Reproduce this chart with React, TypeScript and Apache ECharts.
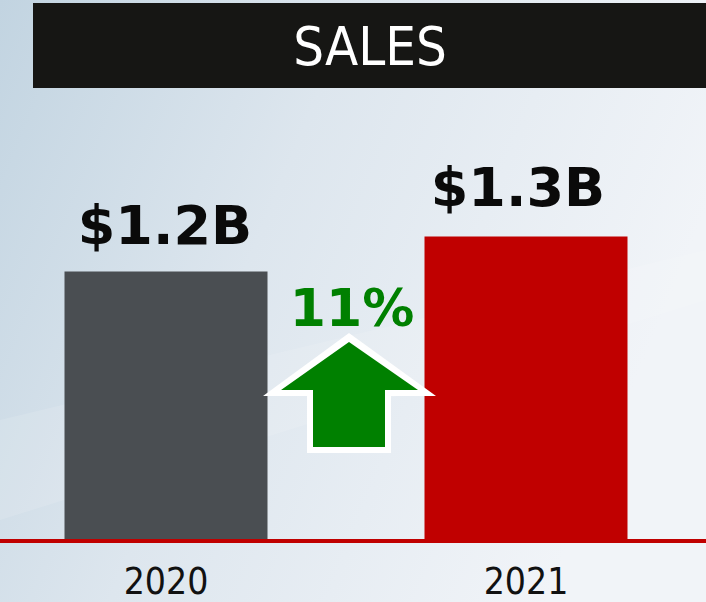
import React, { useEffect, useRef } from "react";
import * as echarts from "echarts";

const years = ["2020", "2021"];
const salesBillions = [1.2, 1.3];
const salesLabels = ["$1.2B", "$1.3B"];
const barColors = ["#4a4e52", "#c00000"];
const growthLabel = "11%";
const chartTitle = "SALES";

export default function App() {
  const ref = useRef<HTMLDivElement>(null);

  useEffect(() => {
    if (!ref.current) return;
    const chart = echarts.init(ref.current, null, { renderer: "svg" });
    const labelOffsets = [[-1, -1], [-8, -4]];
    const option: any = {
      animation: false,
      backgroundColor: {
        type: "linear",
        x: 0,
        y: 0,
        x2: 1,
        y2: 0.35,
        colorStops: [
          { offset: 0, color: "#c2d4e1" },
          { offset: 0.45, color: "#dde6ee" },
          { offset: 1, color: "#f1f4f8" },
        ],
      },
      title: {
        text: chartTitle,
        left: 370,
        top: 46,
        padding: 0,
        textAlign: "center",
        textVerticalAlign: "middle",
        textStyle: {
          color: "#ffffff",
          fontFamily: "DejaVu Sans Condensed",
          fontWeight: "normal",
          fontSize: 54,
        },
        z: 20,
      },
      grid: {
        left: -14,
        right: 0,
        top: 100,
        bottom: 61,
        containLabel: false,
        outerBoundsMode: "none",
      },
      xAxis: {
        type: "category",
        data: years,
        axisLine: { show: true, lineStyle: { color: "#c00000", width: 4 } },
        axisTick: { show: false },
        axisLabel: {
          color: "#111111",
          fontFamily: "DejaVu Sans Condensed",
          fontSize: 37,
          margin: 22,
        },
        z: 5,
      },
      yAxis: {
        type: "value",
        min: 0.43,
        max: 1.69,
        show: false,
        splitLine: { show: false },
      },
      series: [
        {
          type: "bar",
          barWidth: 203,
          data: salesBillions.map((v, i) => ({
            value: v,
            itemStyle: { color: barColors[i] },
            label: { offset: labelOffsets[i] },
          })),
          label: {
            show: true,
            position: "top",
            distance: 18,
            formatter: (p: any) => salesLabels[p.dataIndex],
            color: "#0a0a0a",
            fontFamily: "DejaVu Sans",
            fontWeight: "bold",
            fontSize: 54,
          },
          z: 2,
        },
      ],
      graphic: [
        {
          type: "polygon",
          z: 0,
          silent: true,
          shape: { points: [[0, 420], [706, 250], [706, 300], [0, 520]] },
          style: { fill: "rgba(255,255,255,0.12)" },
        },
        {
          type: "rect",
          z: 10,
          shape: { x: 33, y: 3, width: 673, height: 85 },
          style: { fill: "#161614" },
        },
        {
          type: "polygon",
          z: 30,
          shape: {
            points: [
              [349, 333], [436, 396], [391, 396], [391, 453],
              [307, 453], [307, 396], [263, 396],
            ],
          },
          style: { fill: "#ffffff" },
        },
        {
          type: "polygon",
          z: 31,
          shape: {
            points: [
              [349, 342], [418, 390], [385, 390], [385, 447],
              [313, 447], [313, 390], [281, 390],
            ],
          },
          style: { fill: "#008000" },
        },
        {
          type: "text",
          z: 31,
          x: 352,
          y: 308,
          style: {
            text: growthLabel,
            fill: "#008000",
            fontFamily: "DejaVu Sans",
            fontWeight: "bold",
            fontSize: 52,
            align: "center",
            verticalAlign: "middle",
          },
        },
      ],
    };
    chart.setOption(option);
    return () => chart.dispose();
  }, []);

  return (
    <div
      ref={ref}
      style={{ position: "fixed", left: 0, top: 0, width: 706, height: 602 }}
    />
  );
}
